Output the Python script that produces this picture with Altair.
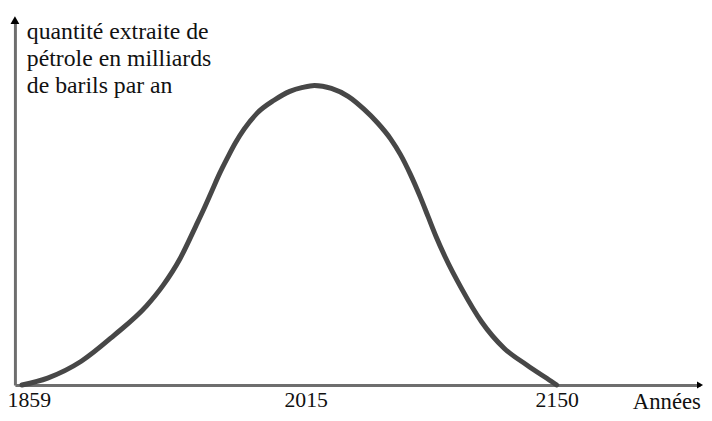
import altair as alt
import pandas as pd

# Curve (schematic Hubbert curve)
years = [1859.0, 1873.0, 1891.3, 1909.0, 1926.8, 1935.9, 1945.1, 1953.7, 1958.0,
         1962.3, 1966.6, 1970.9, 1975.2, 1980.0, 1987.0, 1996.2, 2004.8, 2011.8,
         2018.2, 2027.4, 2036.5, 2045.1, 2052.6, 2059.6, 2065.0, 2070.4, 2075.8,
         2080.1, 2084.4, 2089.2, 2098.4, 2109.1, 2121.5, 2133.9, 2146.8, 2150.0]
values = [0.0, 0.7, 2.4, 5.0, 8.0, 10.1, 12.8, 16.1, 17.8,
          19.6, 21.4, 23.0, 24.5, 25.9, 27.5, 28.8, 29.7, 30.1,
          30.3, 30.0, 29.2, 27.9, 26.5, 24.9, 23.3, 21.3, 19.0,
          17.0, 15.0, 13.0, 9.7, 6.4, 3.7, 2.0, 0.4, 0.0]

tick_years = [1859, 2015, 2150]
y_title = ["quantité extraite de", "pétrole en milliards", "de barils par an"]
x_title = ["Années"]

X_MIN, X_MAX = 1855.2, 2228.0
Y_MAX = 36.9

df = pd.DataFrame({"annee": years, "quantite": values})

FONT = "Liberation Serif"
AXIS_COLOR = "#6e6e6e"
TEXT_COLOR = "#111111"

x_axis = alt.Axis(
    values=tick_years, format="d", grid=False, ticks=False, tickSize=0,
    domain=True, domainColor=AXIS_COLOR, domainWidth=3,
    labelFont=FONT, labelFontSize=22, labelColor=TEXT_COLOR, labelPadding=5,
    labelOffset={"condition": [{"test": "datum.value == 1859", "value": 7},
                               {"test": "datum.value == 2015", "value": -3}],
                 "value": 0},
    title="",
)
y_axis = alt.Axis(
    labels=False, ticks=False, tickSize=0, grid=False,
    domain=True, domainColor=AXIS_COLOR, domainWidth=3,
    title="",
)

x_scale = alt.Scale(domain=[X_MIN, X_MAX], nice=False, zero=False)
y_scale = alt.Scale(domain=[0, Y_MAX], nice=False, zero=True)


def xd(v):
    return alt.X(datum=v, type="quantitative", scale=x_scale, axis=x_axis)


def yd(v):
    return alt.Y(datum=v, type="quantitative", scale=y_scale, axis=y_axis)


one = pd.DataFrame({"a": [0]})

curve = alt.Chart(df).mark_line(
    color="#474747", strokeWidth=5, interpolate="monotone", strokeCap="round"
).encode(
    x=alt.X("annee:Q", scale=x_scale, axis=x_axis),
    y=alt.Y("quantite:Q", scale=y_scale, axis=y_axis),
)

arrow_up = alt.Chart(one).mark_point(
    shape="triangle-up", filled=True, color="#000000", size=80, opacity=1
).encode(x=xd(X_MIN), y=yd(Y_MAX))

arrow_right = alt.Chart(one).mark_point(
    shape="triangle-right", filled=True, color="#000000", size=50, opacity=1
).encode(x=xd(X_MAX), y=yd(0))

y_title_mark = alt.Chart(pd.DataFrame({"t": ["\n".join(y_title)]})).mark_text(
    align="left", baseline="alphabetic", lineBreak="\n", lineHeight=27.5,
    font=FONT, fontSize=24, color=TEXT_COLOR,
).encode(x=xd(1861.7), y=yd(35.0), text="t:N")

x_title_mark = alt.Chart(pd.DataFrame({"t": x_title})).mark_text(
    align="left", baseline="alphabetic",
    font=FONT, fontSize=23, color=TEXT_COLOR,
).encode(x=xd(2191.4), y=yd(-2.4), text="t:N")

chart = alt.layer(curve, arrow_up, arrow_right, y_title_mark, x_title_mark).properties(
    width=693, height=369,
    autosize=alt.AutoSizeParams(type="none"),
    padding={"left": 7, "top": 10, "right": 4, "bottom": 26},
    background="white",
).configure_view(
    stroke=None
)

chart.save("out.html", embed_options={"renderer": "svg", "actions": False})
